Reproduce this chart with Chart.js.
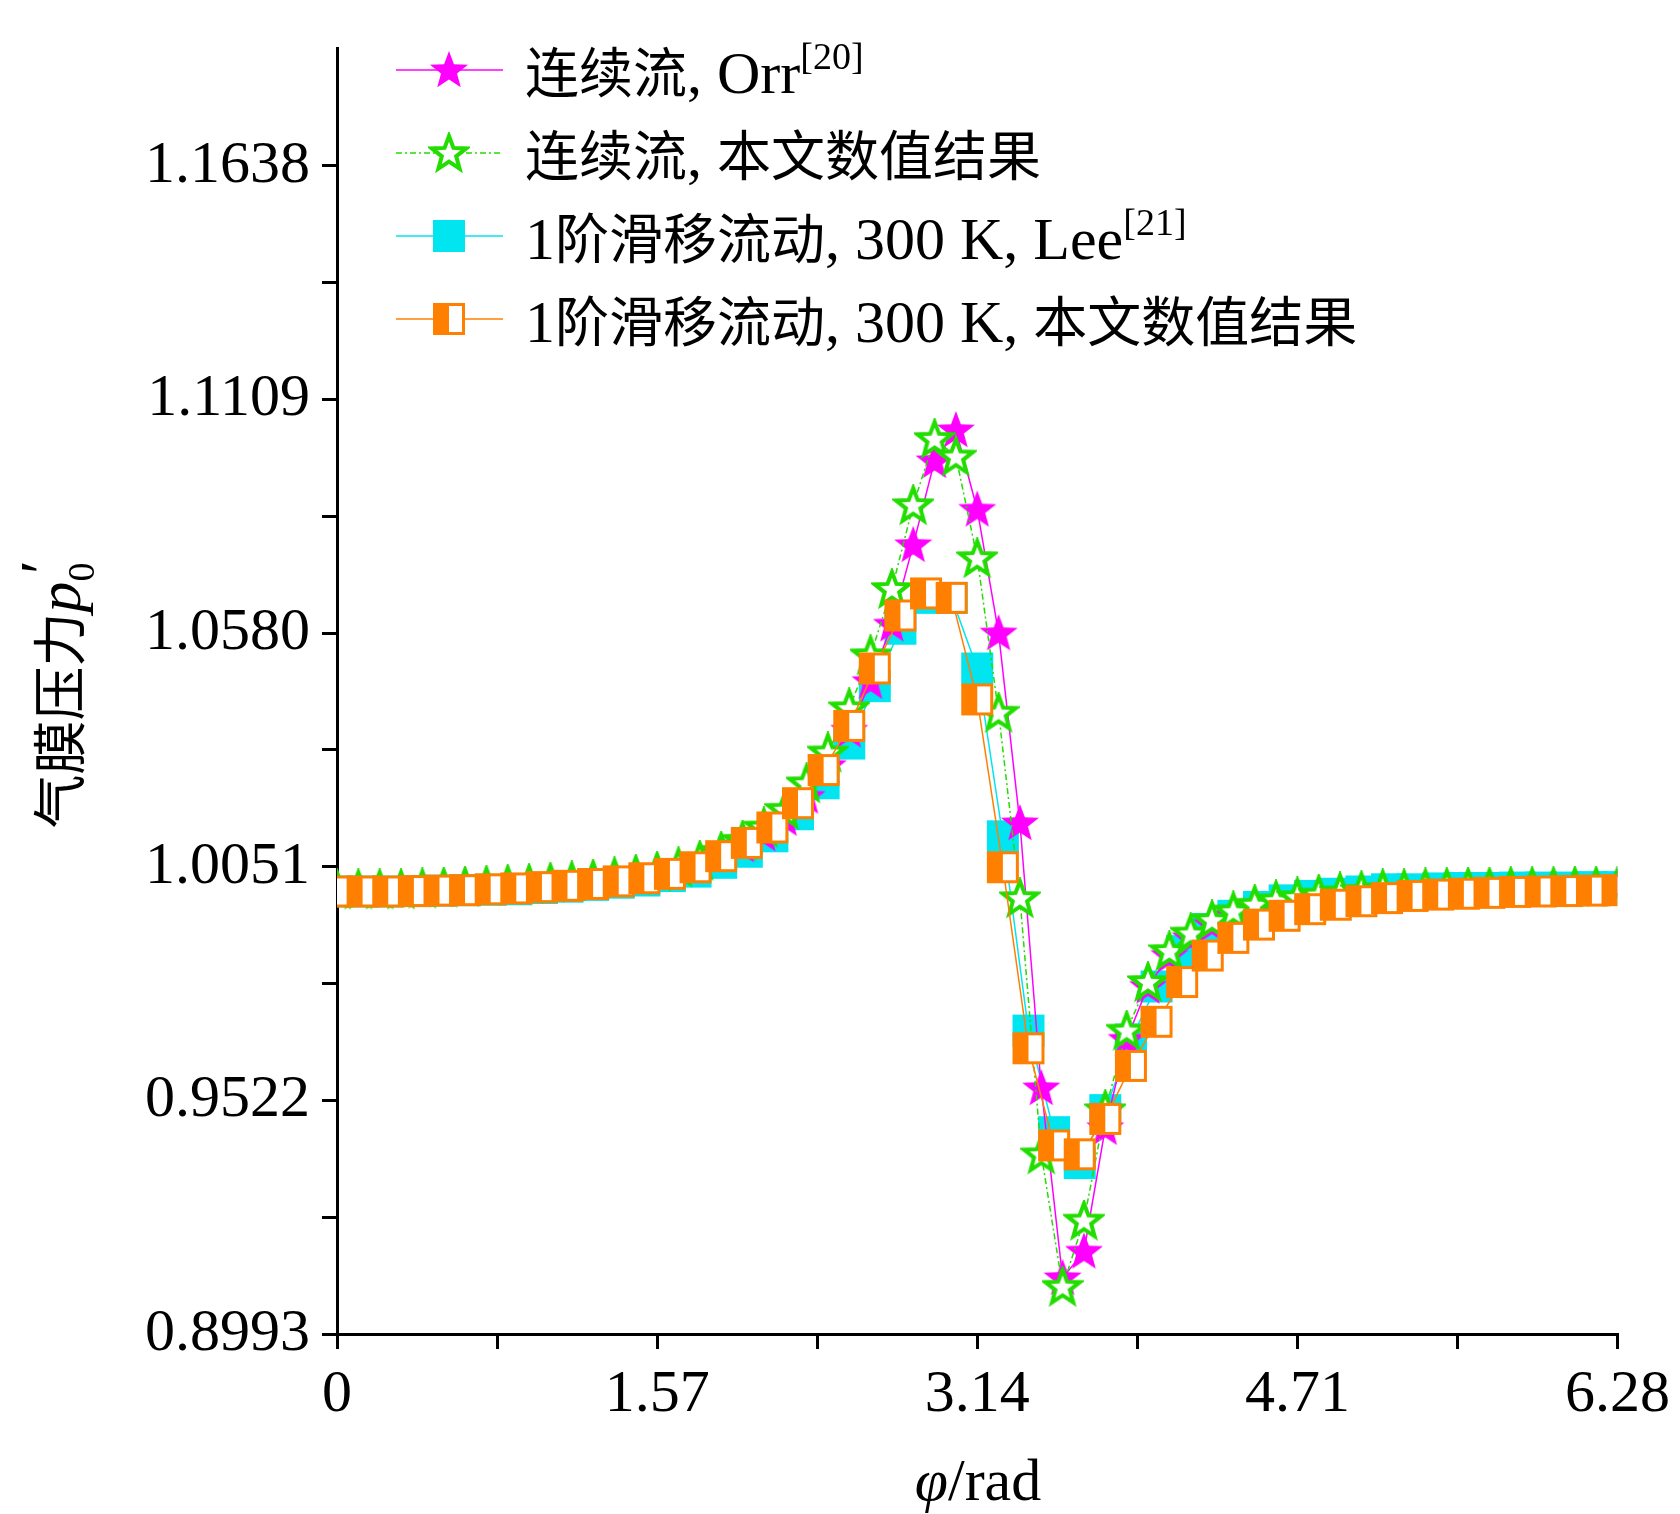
<!DOCTYPE html>
<html>
<head>
<meta charset="utf-8">
<script src="https://cdn.jsdelivr.net/npm/chart.js@4.4.1/dist/chart.umd.min.js"></script>
<style>
body { margin: 0; background: #fff; }
#wrap { position: relative; width: 1680px; height: 1514px; }
#legend { position: absolute; left: 396px; top: 28px; font-family: "Liberation Serif", "Noto Sans CJK SC"; font-size: 60px; color: #000; }
#legend .row { height: 83px; display: flex; align-items: center; }
#legend canvas { margin-right: 22px; }
#legend sup { font-size: 38px; vertical-align: 24px; }
.cjk { font-family: "Noto Sans CJK SC"; font-size: 54px; }
</style>
</head>
<body>
<div id="wrap">
<canvas id="chart" width="1680" height="1514"></canvas>
<div id="legend"></div>
</div>
<script>
// 气膜压力分布
var starStep = 6.28 / 60;
var squareStep = 6.28 / 50;

var orrValues = [1.000, 1.000, 1.000, 1.000, 1.0002, 1.0004, 1.0006, 1.0008, 1.001, 1.0012,
    1.0015, 1.0018, 1.0022, 1.0027, 1.0033, 1.004, 1.005, 1.0063, 1.008, 1.010,
    1.0125, 1.016, 1.021, 1.028, 1.036, 1.047, 1.060, 1.078, 1.097, 1.104,
    1.086, 1.058, 1.015, 0.955, 0.912, 0.918, 0.946, 0.966, 0.978, 0.985,
    0.989, 0.992, 0.994, 0.996, 0.9972, 0.998, 0.9987, 0.9992, 0.9996, 1.000,
    1.000, 1.0002, 1.0003, 1.0004, 1.0004, 1.0005, 1.0005, 1.0005, 1.0006, 1.0006, 1.0006];

var numContValues = [1.000, 1.000, 1.000, 1.000, 1.0002, 1.0004, 1.0006, 1.0008, 1.001, 1.0012,
    1.0015, 1.0018, 1.0022, 1.0027, 1.0033, 1.004, 1.005, 1.0065, 1.0085, 1.011,
    1.014, 1.018, 1.024, 1.031, 1.041, 1.053, 1.068, 1.087, 1.102, 1.098,
    1.075, 1.040, 0.998, 0.940, 0.910, 0.925, 0.950, 0.968, 0.979, 0.986,
    0.990, 0.993, 0.995, 0.9965, 0.9975, 0.9982, 0.9988, 0.9993, 0.9996, 1.000,
    1.000, 1.0002, 1.0003, 1.0004, 1.0004, 1.0005, 1.0005, 1.0005, 1.0006, 1.0006, 1.0006];

var leeValues = [0.9995, 0.9995, 0.9995, 0.9996, 0.9997, 0.9998, 0.9999, 1.0, 1.0003, 1.0006,
    1.001, 1.0015, 1.002, 1.003, 1.004, 1.006, 1.0085, 1.012, 1.017, 1.024,
    1.033, 1.046, 1.059, 1.066, 1.066, 1.050, 1.012, 0.968, 0.945, 0.938,
    0.950, 0.966, 0.978, 0.986, 0.991, 0.994, 0.996, 0.9975, 0.9985, 0.999,
    0.9995, 1.0, 1.0, 1.0002, 1.0003, 1.0003, 1.0004, 1.0004, 1.0004, 1.0005, 1.0005];

var numSlipValues = [0.9995, 0.9995, 0.9995, 0.9996, 0.9997, 0.9998, 1.0, 1.0002, 1.0005, 1.0008,
    1.0012, 1.0018, 1.0025, 1.0035, 1.005, 1.0075, 1.0105, 1.014, 1.0195, 1.027,
    1.037, 1.050, 1.062, 1.067, 1.066, 1.043, 1.005, 0.964, 0.942, 0.940,
    0.948, 0.960, 0.970, 0.979, 0.985, 0.989, 0.992, 0.994, 0.9955, 0.9965,
    0.9973, 0.998, 0.9985, 0.9988, 0.999, 0.9992, 0.9994, 0.9995, 0.9996, 0.9997, 0.9998];

var yMajorTicks = [0.8993, 0.9522, 1.0051, 1.0580, 1.1109, 1.1638];
var xMajorTicks = [0, 1.57, 3.14, 4.71, 6.28];

function toPoints(values, step) {
    return values.map(function (v, i) { return { x: i * step, y: v }; });
}

function starPath(ctx, cx, cy, r) {
    ctx.beginPath();
    for (var i = 0; i < 10; i++) {
        var rr = i % 2 === 0 ? r : r * 0.42;
        var a = -Math.PI / 2 + i * Math.PI / 5;
        ctx.lineTo(cx + rr * Math.cos(a), cy + rr * Math.sin(a));
    }
    ctx.closePath();
}

function makeMarker(kind, size) {
    var c = document.createElement('canvas');
    c.width = size; c.height = size;
    var ctx = c.getContext('2d');
    var m = size / 2;
    if (kind === 'starFill') {
        starPath(ctx, m, m + 1, m - 1);
        ctx.fillStyle = '#ff00ff';
        ctx.fill();
    } else if (kind === 'starOpen') {
        starPath(ctx, m, m + 1, m - 3);
        ctx.fillStyle = '#ffffff';
        ctx.fill();
        ctx.lineWidth = 4;
        ctx.strokeStyle = '#22dd00';
        ctx.stroke();
    } else if (kind === 'sqFill') {
        ctx.fillStyle = '#00e5f0';
        ctx.fillRect(1, 1, size - 2, size - 2);
    } else {
        ctx.fillStyle = '#ffffff';
        ctx.fillRect(2, 2, size - 4, size - 4);
        ctx.fillStyle = '#ff8000';
        ctx.fillRect(2, 2, (size - 4) / 2, size - 4);
        ctx.lineWidth = 3;
        ctx.strokeStyle = '#ff8000';
        ctx.strokeRect(2.5, 2.5, size - 5, size - 5);
    }
    return c;
}

var mkOrr = makeMarker('starFill', 42);
var mkNum = makeMarker('starOpen', 42);
var mkLee = makeMarker('sqFill', 34);
var mkSlip = makeMarker('sqHalf', 34);

var seriesInfo = [
    { label: '连续流, Orr', sup: '[20]', color: '#ff00ff', marker: mkOrr, dash: [] },
    { label: '连续流, 本文数值结果', sup: '', color: '#22dd00', marker: mkNum, dash: [6, 3, 2, 3] },
    { label: '1阶滑移流动, 300 K, Lee', sup: '[21]', color: '#00e5f0', marker: mkLee, dash: [] },
    { label: '1阶滑移流动, 300 K, 本文数值结果', sup: '', color: '#ff8000', marker: mkSlip, dash: [] }
];

var datasets = [
    { data: toPoints(orrValues, starStep), order: 2 },
    { data: toPoints(numContValues, starStep), order: 1 },
    { data: toPoints(leeValues, squareStep), order: 3 },
    { data: toPoints(numSlipValues, squareStep), order: 0 }
].map(function (d, i) {
    var s = seriesInfo[i];
    return {
        label: s.label,
        data: d.data,
        order: d.order,
        borderColor: s.color,
        borderWidth: 1.5,
        borderDash: s.dash,
        pointStyle: s.marker,
        pointRadius: 18,
        showLine: true,
        tension: 0
    };
});

// legend
var legend = document.getElementById('legend');
seriesInfo.forEach(function (s) {
    var row = document.createElement('div');
    row.className = 'row';
    var c = document.createElement('canvas');
    c.width = 107; c.height = 44;
    var ctx = c.getContext('2d');
    ctx.strokeStyle = s.color;
    ctx.lineWidth = 1.5;
    ctx.setLineDash(s.dash);
    ctx.beginPath(); ctx.moveTo(0, 22); ctx.lineTo(107, 22); ctx.stroke();
    ctx.drawImage(s.marker, 53 - s.marker.width / 2, 22 - s.marker.height / 2);
    row.appendChild(c);
    var span = document.createElement('span');
    span.innerHTML = s.label.replace(/([\u4e00-\u9fff]+)/g, '<span class="cjk">$1</span>') +
        (s.sup ? '<sup>' + s.sup + '</sup>' : '');
    row.appendChild(span);
    legend.appendChild(row);
});

var titles = {
    id: 'titles',
    afterDraw: function (chart) {
        var ctx = chart.ctx;
        ctx.save();
        ctx.fillStyle = '#000';
        // x title
        ctx.textBaseline = 'alphabetic';
        ctx.font = 'italic 60px "Liberation Serif"';
        var w1 = ctx.measureText('φ').width;
        ctx.font = '60px "Liberation Serif"';
        var w2 = ctx.measureText('/rad').width;
        var x0 = 978 - (w1 + w2) / 2;
        ctx.font = 'italic 60px "Liberation Serif"';
        ctx.fillText('φ', x0, 1500);
        ctx.font = '60px "Liberation Serif"';
        ctx.fillText('/rad', x0 + w1, 1500);
        // y title
        ctx.translate(62, 690);
        ctx.rotate(-Math.PI / 2);
        ctx.font = '54px "Noto Sans CJK SC"';
        var t = '气膜压力';
        var tw = ctx.measureText(t).width;
        ctx.font = 'italic 62px "Liberation Serif"';
        var pw = ctx.measureText("p").width;
        var sx = -(tw + pw + 30) / 2;
        ctx.font = '54px "Noto Sans CJK SC"';
        ctx.fillText(t, sx, 18);
        ctx.font = 'italic 62px "Liberation Serif"';
        ctx.fillText('p', sx + tw, 18);
        ctx.fillText('′', sx + tw + pw + 4, 0);
        ctx.font = '38px "Liberation Serif"';
        ctx.fillText('0', sx + tw + pw, 32);
        ctx.restore();
    }
};

new Chart(document.getElementById('chart'), {
    type: 'scatter',
    data: { datasets: datasets },
    plugins: [titles],
    options: {
        responsive: false,
        animation: false,
        layout: { padding: { top: -40, right: 44, left: 0, bottom: 0 } },
        plugins: { legend: { display: false }, tooltip: { enabled: false } },
        scales: {
            x: {
                type: 'linear',
                min: 0, max: 6.28,
                afterFit: function (s) { s.height = 180; },
                afterBuildTicks: function (s) {
                    var t = [];
                    for (var i = 0; i <= 8; i++) t.push({ value: i * 0.785 });
                    s.ticks = t;
                },
                ticks: {
                    autoSkip: false,
                    maxRotation: 0,
                    padding: 10,
                    color: '#000',
                    font: { family: 'Liberation Serif', size: 60 },
                    callback: function (v) {
                        var m = xMajorTicks.filter(function (t) { return Math.abs(t - v) < 0.01; });
                        return m.length ? (m[0] === 0 ? '0' : m[0].toFixed(2)) : '';
                    }
                },
                grid: { drawOnChartArea: false, drawTicks: true, tickLength: 15, color: '#000', lineWidth: 3 },
                border: { color: '#000', width: 3 }
            },
            y: {
                type: 'linear',
                min: 0.8993, max: 1.1905,
                afterFit: function (s) { s.width = 337; },
                afterBuildTicks: function (s) {
                    var t = [];
                    for (var i = 0; i <= 10; i++) t.push({ value: 0.8993 + i * 0.02645 });
                    s.ticks = t;
                },
                ticks: {
                    autoSkip: false,
                    padding: 12,
                    color: '#000',
                    font: { family: 'Liberation Serif', size: 60 },
                    callback: function (v, i) { return i % 2 === 0 ? yMajorTicks[i / 2].toFixed(4) : ''; }
                },
                grid: { drawOnChartArea: false, drawTicks: true, tickLength: 15, color: '#000', lineWidth: 3 },
                border: { color: '#000', width: 3 }
            }
        }
    }
});
</script>
</body>
</html>
